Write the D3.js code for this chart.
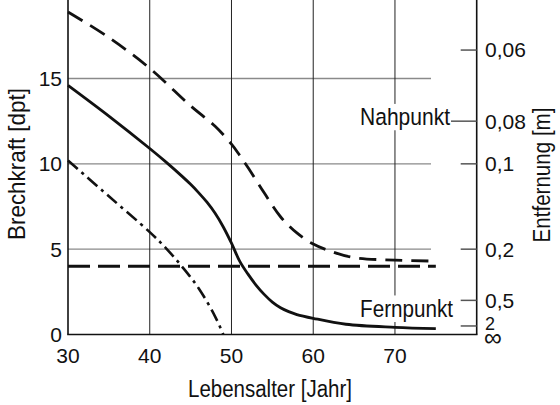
<!DOCTYPE html>
<html><head><meta charset="utf-8">
<script src="https://cdn.jsdelivr.net/npm/d3@7"></script>
<style>
html,body{margin:0;padding:0;background:#fff;}
svg text{font-family:"Liberation Sans",Arial,sans-serif;font-size:21px;fill:#111;}
</style></head>
<body><svg id="c" width="560" height="405"></svg>
<script>
// ---- data ----
const xTicks = [30, 40, 50, 60, 70];
const yTicks = [0, 5, 10, 15];
const distTicks = [0.06, 0.08, 0.1, 0.2, 0.5, 2];
const distLabels = ["0,06", "0,08", "0,1", "0,2", "0,5", "2"];
const infLabel = "\u221E";

const agesNearDashed = [30, 35, 40, 45, 48, 50, 51, 52, 54, 56, 58, 60, 62, 65, 70, 75];
const nearDashed = [18.9, 17.4, 15.6, 13.4, 12.2, 11.15, 10.5, 9.8, 8.3, 6.9, 5.95, 5.3, 4.9, 4.5, 4.36, 4.3];

const agesSolid = [30, 35, 40, 42, 44, 45, 46, 47, 48, 49, 50, 51, 52, 53, 54, 55, 56, 57, 58, 60, 64, 70, 75];
const solid = [14.6, 12.8, 10.9, 10.1, 9.25, 8.8, 8.3, 7.75, 7.1, 6.3, 5.35, 4.3, 3.55, 2.9, 2.35, 1.9, 1.57, 1.34, 1.17, 0.95, 0.6, 0.42, 0.34];

const agesDashDot = [30, 35, 40, 42, 44, 46, 48, 49];
const dashDot = [10.2, 8.1, 6.0, 5.05, 3.95, 2.7, 1.05, 0];

const agesFlat = [30, 75];
const flat = [4, 4];

// ---- scales ----
const svg = d3.select("#c");
const x = d3.scaleLinear().domain([30, 80]).range([68, 476.7]);
const y = d3.scaleLinear().domain([0, 19.6]).range([334.5, 0]);

// condensed text helper: scales text horizontally to a target width
function ctext(str, tx, ty, opts) {
  const g = svg.append("g");
  const t = g.append("text").attr("x", 0).attr("y", 0)
    .attr("text-anchor", opts.anchor || "middle")
    .style("font-size", (opts.size || 23.5) + "px").text(str);
  const w = t.node().getComputedTextLength();
  const s = opts.width ? opts.width / w : 1;
  g.attr("transform", `translate(${tx},${ty})` + (opts.rotate ? ` rotate(${opts.rotate})` : "") + ` scale(${s},1)`);
  return g;
}

// grid
svg.append("g").selectAll("line").data(yTicks.filter(d => d > 0)).join("line")
  .attr("x1", x(30)).attr("x2", 431)
  .attr("y1", d => y(d)).attr("y2", d => y(d))
  .attr("stroke", "#8a8a8a").attr("stroke-width", 1.3);
svg.append("g").selectAll("line").data(xTicks.filter(d => d > 30)).join("line")
  .attr("x1", d => x(d)).attr("x2", d => x(d))
  .attr("y1", 0).attr("y2", y(0))
  .attr("stroke", "#222").attr("stroke-width", 1);

// annotation labels with white background
function label(txt, xe, yb, w) {
  const g = ctext(txt, xe, yb, { anchor: "end", width: w });
  const b = g.node().getBBox();
  g.insert("rect", "text").attr("x", b.x - 2).attr("y", b.y).attr("width", b.width + 4).attr("height", b.height).attr("fill", "#fff");
  return g;
}

// curves
const line = d3.line().curve(d3.curveCatmullRom.alpha(0.5));
function curve(ages, vals, dash, w) {
  svg.append("path")
    .attr("d", line(ages.map((a, i) => [x(a), y(vals[i])])))
    .attr("fill", "none").attr("stroke", "#111").attr("stroke-width", w)
    .attr("stroke-dasharray", dash);
}
curve(agesNearDashed, nearDashed, "17,9", 2.8);
curve(agesSolid, solid, null, 2.8);
curve(agesDashDot, dashDot, "13,5,3,5", 2.6);
curve(agesFlat, flat, "22,8", 2.8);
label("Nahpunkt", 450, 125, 90);
label("Fernpunkt", 453, 316.7, 93);

// axes frame
svg.append("line").attr("x1", x(30)).attr("x2", x(30)).attr("y1", 0).attr("y2", y(0)).attr("stroke", "#111").attr("stroke-width", 1.6);
svg.append("line").attr("x1", x(80)).attr("x2", x(80)).attr("y1", 0).attr("y2", y(0)).attr("stroke", "#111").attr("stroke-width", 1.6);
svg.append("line").attr("x1", x(30) - 0.8).attr("x2", x(80) + 0.8).attr("y1", y(0)).attr("y2", y(0)).attr("stroke", "#111").attr("stroke-width", 1.6);

// left tick labels
svg.append("g").selectAll("text").data(yTicks).join("text")
  .attr("x", 62).attr("y", d => y(d)).attr("dy", "0.35em").attr("text-anchor", "end").text(d => d);
// bottom tick labels
svg.append("g").selectAll("text").data(xTicks).join("text")
  .attr("x", d => x(d)).attr("y", 363.3).attr("text-anchor", "middle").text(d => d);

// right axis ticks (distance = 1/dpt)
svg.append("g").selectAll("line").data(distTicks).join("line")
  .attr("x1", (d, i) => i === 1 ? 451 : 460.7).attr("x2", x(80))
  .attr("y1", d => y(1 / d)).attr("y2", d => y(1 / d))
  .attr("stroke", "#555").attr("stroke-width", 1.5);
svg.append("g").selectAll("text").data(distTicks).join("text")
  .attr("x", 485).attr("y", d => y(1 / d))
  .attr("dy", (d, i) => i === 5 ? "0.2em" : "0.35em")
  .style("font-size", (d, i) => i === 5 ? "18px" : null)
  .text((d, i) => distLabels[i]);
svg.append("text").attr("x", 484).attr("y", 346)
  .style("font-size", "25px").text(infLabel);

// axis titles
ctext("Brechkraft [dpt]", 25, 164, { rotate: -90, width: 152 });
ctext("Entfernung [m]", 550, 175, { rotate: -90, width: 135 });
ctext("Lebensalter [Jahr]", 270, 396.7, { width: 164 });
</script></body></html>
